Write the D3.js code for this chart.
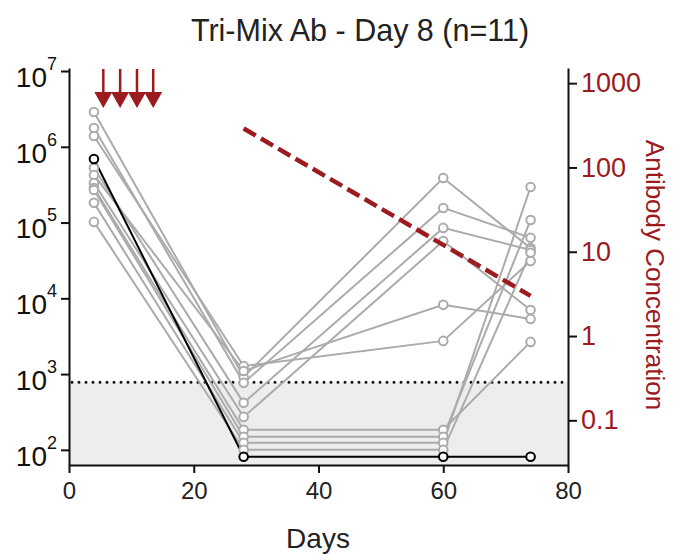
<!DOCTYPE html>
<html>
<head>
<meta charset="utf-8">
<script src="https://cdnjs.cloudflare.com/ajax/libs/d3/7.8.5/d3.min.js"></script>
<style>
  body { margin: 0; background: #fff; }
  svg text { font-family: "Liberation Sans", Arial, Helvetica, sans-serif; }
</style>
</head>
<body>
<svg id="chart" width="673" height="554"></svg>
<script>
// sampling days
const sampleDays = [4, 28, 60, 74]

// titer per subject at each sample day (gray = 10 subjects)
const graySubjects = [
  [2.88e6, 918, 3.87e5, 4.6e4],
  [1.77e6, 766, 1.56e5, 6.3e4],
  [1.39e6, 1280, 2740, 3.1e4],
  [5.25e5, 417, 8.5e4, 4.35e4],
  [4.25e5, 1100, 8200, 5350],
  [3.33e5, 272, 5.7e4, 7000],
  [2.86e5, 184, 184, 2660],
  [2.69e5, 149, 149, 1.08e5],
  [1.82e5, 124, 124, 2.95e5],
  [1.02e5, 100, 100, 4.0e4]
]
const blackSubject = [6.9e5, 81, 81, 81]

// antibody concentration (right axis)
const antibodyDays = [28, 74]
const antibodyConc = [290, 3]

// dosing arrows
const doseDays = [5.5, 8.2, 10.9, 13.5]

const detectionLimit = 780

const xTicks = [0, 20, 40, 60, 80]
const leftTicks = [1e2, 1e3, 1e4, 1e5, 1e6, 1e7]
const rightTicks = [0.1, 1, 10, 100, 1000]

const red = '#9b1b1f'
const gray = '#ababab'

const svg = d3.select('#chart')

const x = d3.scaleLinear().domain([0, 80]).range([69, 568])
const y = d3.scaleLog().domain([Math.pow(10, 1.8), Math.pow(10, 7.04)]).range([465, 68])
const yR = d3.scaleLog().domain([Math.pow(10, -1.53), Math.pow(10, 3.18)]).range([465, 68])

// title
svg.append('text')
  .attr('x', 360).attr('y', 41)
  .attr('text-anchor', 'middle')
  .attr('font-size', 30.5)
  .attr('fill', '#222')
  .text('Tri-Mix Ab - Day 8 (n=11)')

// shaded region below detection limit
svg.append('rect')
  .attr('x', x(0)).attr('y', y(detectionLimit))
  .attr('width', x(80) - x(0))
  .attr('height', y.range()[0] - y(detectionLimit))
  .attr('fill', '#eceeed')

svg.append('line')
  .attr('x1', x(0) + 3).attr('x2', x(80))
  .attr('y1', y(detectionLimit)).attr('y2', y(detectionLimit))
  .attr('stroke', '#111')
  .attr('stroke-width', 3)
  .attr('stroke-linecap', 'round')
  .attr('stroke-dasharray', '0 7')

// axes
const xAxis = svg.append('g')
  .attr('transform', 'translate(0,465)')
  .call(d3.axisBottom(x).tickValues(xTicks).tickSize(8).tickSizeOuter(0).tickPadding(9))

const leftAxis = svg.append('g')
  .attr('transform', 'translate(69,0)')
  .call(d3.axisLeft(y).tickValues(leftTicks).tickSize(8).tickSizeOuter(0).tickPadding(4).tickFormat(''))

const rightAxis = svg.append('g')
  .attr('transform', 'translate(568,0)')
  .call(d3.axisRight(yR).tickValues(rightTicks).tickSize(9).tickSizeOuter(0).tickPadding(4).tickFormat(d => d >= 1 ? d3.format('d')(d) : d))

svg.selectAll('.domain, .tick line')
  .attr('stroke', '#111')
  .attr('stroke-width', 2)

xAxis.selectAll('text').attr('font-size', 24).attr('fill', '#222')
rightAxis.selectAll('text').attr('font-size', 27).attr('fill', red)

// superscript labels on the left axis
leftAxis.selectAll('.tick').each(function(d) {
  const t = d3.select(this).select('text')
    .attr('font-size', 28)
    .attr('fill', '#111')
    .attr('dy', '0.55em')
  t.append('tspan').text('10')
  t.append('tspan')
    .attr('font-size', 18)
    .attr('dy', '-0.95em')
    .text(Math.round(Math.log10(d)))
})

svg.append('text')
  .attr('x', 318).attr('y', 548)
  .attr('text-anchor', 'middle')
  .attr('font-size', 28)
  .attr('fill', '#222')
  .text('Days')

svg.append('text')
  .attr('transform', 'translate(646,275) rotate(90)')
  .attr('text-anchor', 'middle')
  .attr('font-size', 26)
  .attr('fill', red)
  .text('Antibody Concentration')

// subject lines
const line = d3.line()
  .x((d, i) => x(sampleDays[i]))
  .y(d => y(d))

svg.append('g').selectAll('path')
  .data(graySubjects)
  .join('path')
  .attr('d', line)
  .attr('fill', 'none')
  .attr('stroke', gray)
  .attr('stroke-width', 2)

svg.append('path')
  .datum(blackSubject)
  .attr('d', line)
  .attr('fill', 'none')
  .attr('stroke', '#000')
  .attr('stroke-width', 2)

graySubjects.forEach(s => {
  svg.append('g').selectAll('circle')
    .data(s)
    .join('circle')
    .attr('cx', (d, i) => x(sampleDays[i]))
    .attr('cy', d => y(d))
    .attr('r', 4.3)
    .attr('fill', '#fff')
    .attr('stroke', gray)
    .attr('stroke-width', 2)
})

svg.append('g').selectAll('circle')
  .data(blackSubject)
  .join('circle')
  .attr('cx', (d, i) => x(sampleDays[i]))
  .attr('cy', d => y(d))
  .attr('r', 4.3)
  .attr('fill', '#fff')
  .attr('stroke', '#000')
  .attr('stroke-width', 2)

// antibody decay
const abLine = d3.line()
  .x((d, i) => x(antibodyDays[i]))
  .y(d => yR(d))

svg.append('path')
  .datum(antibodyConc)
  .attr('d', abLine)
  .attr('fill', 'none')
  .attr('stroke', red)
  .attr('stroke-width', 4.5)
  .attr('stroke-dasharray', '14 6')

// dose arrows
const arrows = svg.append('g').selectAll('g')
  .data(doseDays)
  .join('g')
  .attr('transform', d => 'translate(' + x(d) + ',0)')

arrows.append('line')
  .attr('x1', 0).attr('x2', 0)
  .attr('y1', 69).attr('y2', 94)
  .attr('stroke', red)
  .attr('stroke-width', 2.5)

arrows.append('path')
  .attr('d', 'M-9,92 L9,92 L0,108 Z')
  .attr('fill', red)
</script>
</body>
</html>
